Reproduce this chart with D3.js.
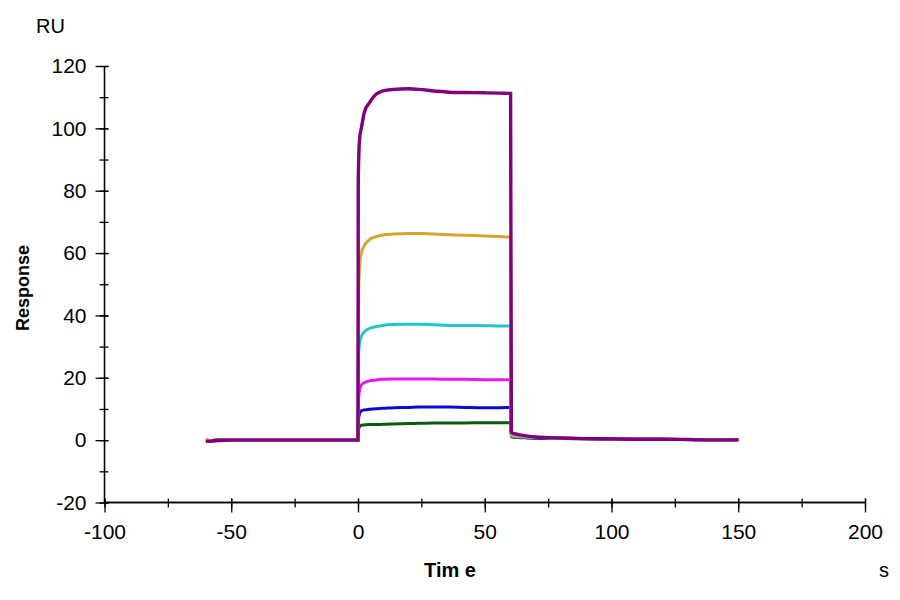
<!DOCTYPE html>
<html>
<head>
<meta charset="utf-8">
<script src="https://cdn.jsdelivr.net/npm/d3@7"></script>
<style>
  body { margin: 0; background: #fff; }
  text { font-family: "Liberation Sans", Arial, sans-serif; fill: #000; }
</style>
</head>
<body>
<script>
// sample times (s) shared by every curve
const time = [-60, -58, -55, -50, -45, -40, -30, -20, -10, 0, 0.1, 0.6, 1.3, 2.6, 4.5, 7.2, 9.8, 14, 20, 24, 30, 36, 42, 50, 56, 60.2, 60.5, 61.2, 62, 64, 67, 70, 75, 80, 90, 100, 110, 120, 130, 140, 150]

// response (RU) per concentration, lowest to highest
const green   = [-0.3, -0.2, -0.1, 0, 0, 0, 0, 0, 0, 0, 3.0, 4.3, 4.8, 4.9, 5.0, 5.0, 5.1, 5.2, 5.3, 5.4, 5.5, 5.5, 5.5, 5.6, 5.6, 5.6, 1.2, 1.0, 0.9, 0.8, 0.7, 0.6, 0.5, 0.5, 0.4, 0.3, 0.3, 0.2, 0.2, 0.1, 0.1]
const blue    = [-0.3, -0.2, 0.1, 0, 0, 0, 0, 0, 0, 0, 6.0, 8.5, 9.4, 9.7, 9.9, 10.1, 10.2, 10.4, 10.5, 10.6, 10.6, 10.6, 10.5, 10.4, 10.4, 10.5, 1.3, 1.1, 1.0, 0.9, 0.8, 0.7, 0.6, 0.5, 0.5, 0.4, 0.3, 0.3, 0.2, 0.1, 0.1]
const magenta = [-0.3, -0.2, 0.2, 0, 0, 0, 0, 0, 0, 0, 12.0, 16.0, 17.7, 18.5, 19.0, 19.3, 19.5, 19.6, 19.6, 19.6, 19.6, 19.5, 19.5, 19.4, 19.4, 19.4, 1.4, 1.2, 1.1, 1.0, 0.9, 0.8, 0.7, 0.6, 0.5, 0.4, 0.3, 0.3, 0.2, 0.1, 0.1]
const cyan    = [-0.3, -0.2, 0, 0, 0, 0, 0, 0, 0, 0, 25.0, 31.0, 33.2, 34.8, 35.8, 36.4, 36.8, 37.1, 37.2, 37.2, 37.0, 36.8, 36.8, 36.7, 36.6, 36.6, 1.5, 1.3, 1.2, 1.1, 1.0, 0.9, 0.7, 0.6, 0.5, 0.4, 0.3, 0.3, 0.2, 0.1, 0.1]
const gold    = [0.4, -0.2, 0, 0, 0, 0, 0, 0, 0, 0, 40.0, 55.0, 60.0, 62.5, 64.3, 65.3, 65.8, 66.1, 66.3, 66.3, 66.1, 65.9, 65.7, 65.5, 65.3, 65.1, 1.8, 1.5, 1.4, 1.3, 1.1, 0.9, 0.8, 0.7, 0.5, 0.4, 0.3, 0.3, 0.2, 0.2, 0.3]
const purple  = [-0.4, -0.3, -0.1, 0, 0, 0, 0, 0, 0, 0, 83.0, 96.4, 100.0, 105.4, 108.2, 111.0, 112.0, 112.5, 112.7, 112.5, 112.0, 111.6, 111.5, 111.4, 111.3, 111.2, 2.6, 2.2, 2.0, 1.7, 1.3, 1.0, 0.8, 0.7, 0.5, 0.4, 0.3, 0.3, 0.2, 0.1, 0.1]

const curves = [
    { name: 'green', values: green, color: '#0b5a0b', w: 3 },
    { name: 'blue', values: blue, color: '#0a0ad8', w: 3 },
    { name: 'magenta', values: magenta, color: '#f014f0', w: 3 },
    { name: 'cyan', values: cyan, color: '#1ec8c8', w: 3 },
    { name: 'gold', values: gold, color: '#d4a534', w: 3 },
    { name: 'purple', values: purple, color: '#800080', w: 3.4 }
]

const xTicks = [-100, -50, 0, 50, 100, 150, 200]
const yTicks = [-20, 0, 20, 40, 60, 80, 100, 120]

const width = 900
const height = 600

const svg = d3.select('body').append('svg')
    .attr('width', width)
    .attr('height', height)

const x = d3.scaleLinear().domain([-100, 200]).range([104.5, 865])
const y = d3.scaleLinear().domain([-20, 120]).range([502.5, 66])

// minor ticks first, majors drawn over them
const xMinor = d3.range(-100, 201, 25)
const yMinor = d3.range(-20, 121, 10)

const xAxis = svg.append('g').attr('transform', `translate(0,${y(-20)})`)
xAxis.call(d3.axisBottom(x).tickValues(xMinor).tickSize(5).tickFormat(''))
xAxis.append('g').call(d3.axisBottom(x).tickValues(xTicks).tickSize(10).tickPadding(12).tickFormat(d => String(d)))
xAxis.selectAll('.tick line').attr('y1', -4)
xAxis.selectAll('.domain').attr('d', `M${x(-100)},0H${x(200)}`)

const yAxis = svg.append('g').attr('transform', `translate(${x(-100)},0)`)
yAxis.call(d3.axisLeft(y).tickValues(yMinor).tickSize(5).tickFormat(''))
yAxis.append('g').call(d3.axisLeft(y).tickValues(yTicks).tickSize(9).tickPadding(9).tickFormat(d => String(d)))
yAxis.selectAll('.tick line').attr('x1', 4)
yAxis.selectAll('.domain').attr('d', `M0,${y(120)}V${y(-20)}`)

svg.selectAll('.domain, .tick line').attr('stroke', '#000').attr('stroke-width', 1.3)
svg.selectAll('.tick text')
    .style('font-family', '"Liberation Sans", Arial, sans-serif')
    .style('font-size', '21px')
    .attr('fill', '#000')

const line = d3.line()
    .x((d, i) => x(time[i]))
    .y(d => y(d))
    .curve(d3.curveMonotoneX)

svg.append('g')
    .selectAll('path')
    .data(curves)
    .enter()
    .append('path')
    .attr('d', d => line(d.values))
    .attr('fill', 'none')
    .attr('stroke', d => d.color)
    .attr('stroke-width', d => d.w)

svg.append('text')
    .text('RU')
    .attr('x', 36)
    .attr('y', 33)
    .style('font-size', '20px')

svg.append('text')
    .text('Response')
    .attr('transform', 'translate(29,288) rotate(-90)')
    .attr('text-anchor', 'middle')
    .style('font-size', '18px')
    .style('font-weight', 'bold')

svg.append('text')
    .text('Tim e')
    .attr('x', 450)
    .attr('y', 577)
    .attr('text-anchor', 'middle')
    .style('font-size', '20px')
    .style('font-weight', 'bold')

svg.append('text')
    .text('s')
    .attr('x', 879)
    .attr('y', 577)
    .style('font-size', '20px')
</script>
</body>
</html>
